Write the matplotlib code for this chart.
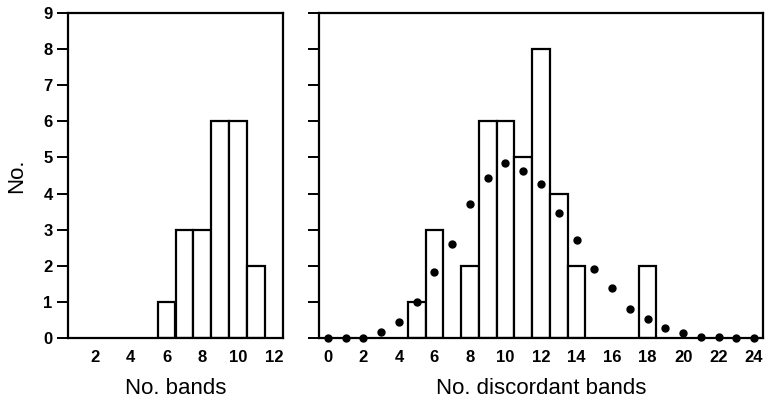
import matplotlib
matplotlib.use("Agg")
import matplotlib.pyplot as plt

plt.rcParams['font.family'] = ['Liberation Sans', 'DejaVu Sans']

# Left panel: No. bands
bands_x = [6, 7, 8, 9, 10, 11]
bands_n = [1, 3, 3, 6, 6, 2]
left_xticks = [2, 4, 6, 8, 10, 12]

# Right panel: No. discordant bands
disc_x = [5, 6, 8, 9, 10, 11, 12, 13, 14, 18]
disc_n = [1, 3, 2, 6, 6, 5, 8, 4, 2, 2]
exp_x = list(range(0, 25))
exp_n = [0, 0, 0, 0.16, 0.43, 1.0, 1.82, 2.6, 3.7, 4.42, 4.84, 4.63, 4.26,
         3.45, 2.72, 1.9, 1.38, 0.8, 0.54, 0.29, 0.15, 0.04, 0.02, 0.01, 0.0]
right_xticks = list(range(0, 25, 2))
yticks = list(range(0, 10))

fig = plt.figure(figsize=(7.68, 4.07), dpi=100)
ax1 = fig.add_axes([68/768, 1-338/407, 215/768, 325/407])
ax2 = fig.add_axes([319/768, 1-338/407, 444/768, 325/407])

lw = 1.6
ax1.bar(bands_x, bands_n, width=1, facecolor='white', edgecolor='black', linewidth=lw, zorder=2)
ax2.bar(disc_x, disc_n, width=1, facecolor='white', edgecolor='black', linewidth=lw, zorder=2)
ax2.plot(exp_x, exp_n, 'o', color='black', markersize=5, zorder=3, clip_on=False)

for ax in (ax1, ax2):
    ax.set_ylim(0, 9)
    ax.set_yticks(yticks)
    for s in ax.spines.values():
        s.set_linewidth(lw)
    ax.tick_params(axis='y', direction='out', length=8, width=1.4, labelsize=12, pad=3)
    ax.tick_params(axis='x', length=0, labelsize=12, pad=9)

ax1.set_xlim(0.5, 12.5)
ax1.set_xticks(left_xticks)
ax2.set_xlim(-0.5, 24.5)
ax2.set_xticks(right_xticks)
ax2.set_yticklabels([])

for lab in ax1.get_xticklabels() + ax1.get_yticklabels() + ax2.get_xticklabels():
    lab.set_fontweight('bold')

ax1.set_xlabel('No. bands', fontsize=16, labelpad=9)
ax2.set_xlabel('No. discordant bands', fontsize=16, labelpad=9)
ax1.set_ylabel('No.', fontsize=16, labelpad=12)

fig.savefig('out.png', dpi=100)
